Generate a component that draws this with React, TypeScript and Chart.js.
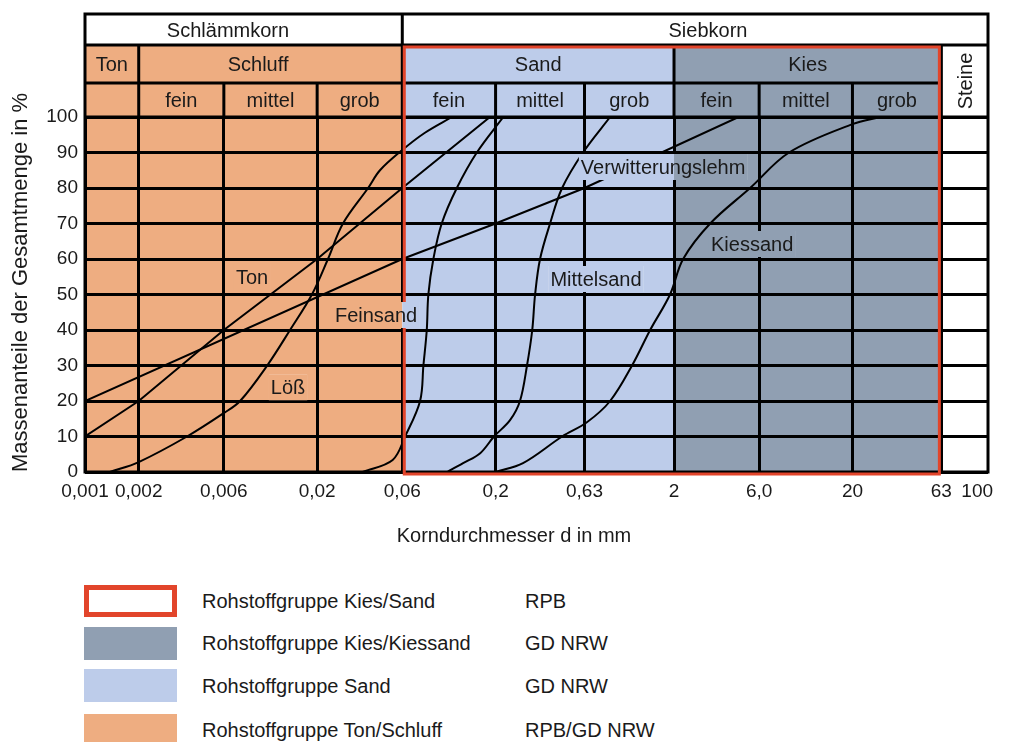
import React, { useEffect, useRef } from 'react';
import { Chart, registerables } from 'chart.js';

Chart.register(...registerables);

// ---------- axis ticks ----------
const xTickValues = [0.001, 0.002, 0.006, 0.02, 0.06, 0.2, 0.63, 2, 6, 20, 63, 100];
const xTickLabels = ['0,001', '0,002', '0,006', '0,02', '0,06', '0,2', '0,63', '2', '6,0', '20', '63', '100'];
const xAxisMin = 0.001;
const xAxisMax = 115;
const yAxisMin = 0;
const yAxisMax = 100;
const yStep = 10;
const xTitle = 'Korndurchmesser d in mm';
const yTitle = 'Massenanteile der Gesamtmenge in %';

// ---------- grain size curves (diameter in mm, passing in %) ----------
const curveNames = ['Ton', 'Löß', 'Verwitterungslehm', 'Feinsand', 'Mittelsand', 'Kiessand'];

const tonD = [0.001, 0.002, 0.006, 0.02, 0.06, 0.186];
const tonP = [10, 20, 40, 60, 80, 100];

const lossD = [0.00138, 0.002, 0.00373, 0.006, 0.0074, 0.0105, 0.0141, 0.0187, 0.023, 0.0279, 0.0386, 0.045, 0.06, 0.08, 0.114];
const lossP = [0, 2.8, 10, 16.6, 20, 30, 40, 50, 60, 70, 80, 85, 90.7, 95.5, 100];

const verwD = [0.001, 0.06, 0.2, 0.63, 4.6];
const verwP = [20, 60, 70, 80, 100];

const feinD = [0.036, 0.053, 0.0622, 0.0755, 0.0788, 0.0823, 0.084, 0.0896, 0.0998, 0.1213, 0.157, 0.221];
const feinP = [0, 3.4, 10, 20, 30, 40, 50, 60, 70, 80, 90, 100];

const mittelD = [0.107, 0.1315, 0.164, 0.196, 0.241, 0.274, 0.3, 0.321, 0.333, 0.355, 0.404, 0.472, 0.618, 0.877];
const mittelP = [0, 2.5, 5.3, 10, 14.6, 20, 30, 40, 50, 60, 70, 80, 90, 100];

const kiesD = [0.2, 0.285, 0.472, 0.65, 0.877, 1.164, 1.47, 1.9, 2.25, 3.19, 5.34, 8.83, 20, 28.6];
const kiesP = [0, 2.5, 10, 14, 20, 30, 40, 50, 60, 70, 80, 90, 98, 100];

const curveD = [tonD, lossD, verwD, feinD, mittelD, kiesD];
const curveP = [tonP, lossP, verwP, feinP, mittelP, kiesP];
const curveSmooth = [false, true, false, true, true, true];

// ---------- fraction bands ----------
const bandFrom = [0.001, 0.06, 2];
const bandTo = [0.06, 2, 63];

// ---------- header ----------
const headerRow1Text = ['Schlämmkorn', 'Siebkorn'];
const headerRow1At = [0.00633, 3.1];
const headerRow1Dividers = [0.06];

const headerRow2Text = ['Ton', 'Schluff', 'Sand', 'Kies'];
const headerRow2From = [0.001, 0.002, 0.06, 2];
const headerRow2To = [0.002, 0.06, 2, 63];
const headerRow2At = [0, 0.00933, 0, 0];
const headerRow2Dividers = [0.002, 0.06, 2, 63];
const steineText = 'Steine';
const steineFrom = 63;

const headerRow3Text = ['fein', 'mittel', 'grob', 'fein', 'mittel', 'grob', 'fein', 'mittel', 'grob'];
const headerRow3Edges = [0.002, 0.006, 0.02, 0.06, 0.2, 0.63, 2, 6, 20, 63];

// ---------- curve labels ----------
const labelTexts = ['Ton', 'Löß', 'Feinsand', 'Mittelsand', 'Kiessand', 'Verwitterungslehm'];
const labelD = [0.00863, 0.01374, 0.0428, 0.731, 5.48, 1.738];
const labelP = [54.9, 23.9, 44.2, 54.4, 64.2, 85.9];

// ---------- legend ----------
const legendNames = ['Rohstoffgruppe Kies/Sand', 'Rohstoffgruppe Kies/Kiessand', 'Rohstoffgruppe Sand', 'Rohstoffgruppe Ton/Schluff'];
const legendSources = ['RPB', 'GD NRW', 'GD NRW', 'RPB/GD NRW'];

// ---------- styles ----------
const FONT = '"Liberation Sans", Arial, Helvetica, sans-serif';
const TEXT = '#1a1a1a';
const BAND_COLORS = ['#EEAD81', '#BDCCEA', '#909FB2'];
const RED = '#E2452B';
const ROW0 = 14;
const ROW1 = 45;
const ROW2 = 83;
const X_TITLE_X = 514;
const X_TITLE_Y = 535;

function drawCapText(ctx: CanvasRenderingContext2D, text: string, cx: number, cy: number, size: number) {
  ctx.font = `${size}px ${FONT}`;
  ctx.fillStyle = TEXT;
  ctx.textAlign = 'center';
  ctx.textBaseline = 'alphabetic';
  ctx.fillText(text, cx, cy + size * 0.358);
}

function fillBands(chart: any) {
  const { ctx, chartArea: a, scales } = chart;
  const x = scales.x;
  for (let i = 0; i < bandFrom.length; i++) {
    const x1 = x.getPixelForValue(bandFrom[i]);
    const x2 = x.getPixelForValue(bandTo[i]);
    ctx.fillStyle = BAND_COLORS[i];
    ctx.fillRect(x1, ROW1, x2 - x1, a.bottom - ROW1);
  }
}

const sievePlugin = {
  id: 'sieveDiagram',
  beforeDraw(chart: any) {
    const { ctx } = chart;
    ctx.save();
    ctx.fillStyle = '#ffffff';
    ctx.fillRect(0, 0, chart.width, chart.height);
    fillBands(chart);
    ctx.restore();
  },
  afterDatasetsDraw(chart: any) {
    const { ctx, chartArea: a, scales } = chart;
    const x = scales.x;
    const y = scales.y;
    const px = (v: number) => x.getPixelForValue(v);
    ctx.save();
    ctx.strokeStyle = '#000';
    ctx.lineWidth = 3;
    ctx.lineCap = 'butt';
    const line = (x1: number, y1: number, x2: number, y2: number) => {
      ctx.beginPath();
      ctx.moveTo(x1, y1);
      ctx.lineTo(x2, y2);
      ctx.stroke();
    };
    // header grid
    line(a.left, ROW1, a.right, ROW1);
    line(a.left, ROW2, px(steineFrom), ROW2);
    line(a.left, a.top, a.right, a.top);
    headerRow1Dividers.forEach((v) => line(px(v), ROW0, px(v), ROW1));
    headerRow2Dividers.forEach((v) => line(px(v), ROW1, px(v), ROW2));
    headerRow3Edges.forEach((v) => line(px(v), ROW2, px(v), a.top));
    // outer border
    ctx.strokeRect(a.left, ROW0, a.right - a.left, a.bottom - ROW0);

    // red frame (Rohstoffgruppe Kies/Sand)
    ctx.strokeStyle = RED;
    ctx.lineWidth = 3;
    const rx1 = px(0.06) + 2;
    const rx2 = px(63) - 2;
    ctx.strokeRect(rx1, ROW1 + 2, rx2 - rx1, a.bottom + 2 - (ROW1 + 2));

    // header texts
    const size = 20;
    const r1c = (ROW0 + ROW1) / 2;
    const r2c = (ROW1 + ROW2) / 2;
    const r3c = (ROW2 + a.top) / 2;
    headerRow1Text.forEach((t, i) => drawCapText(ctx, t, px(headerRow1At[i]), r1c, size));
    headerRow2Text.forEach((t, i) => {
      const cx = headerRow2At[i] ? px(headerRow2At[i]) : (px(headerRow2From[i]) + px(headerRow2To[i])) / 2;
      drawCapText(ctx, t, cx, r2c, size);
    });
    headerRow3Text.forEach((t, i) => {
      const cx = (px(headerRow3Edges[i]) + px(headerRow3Edges[i + 1])) / 2;
      drawCapText(ctx, t, cx, r3c, size);
    });
    // Steine (rotated)
    ctx.save();
    ctx.translate((px(steineFrom) + a.right) / 2, (ROW1 + a.top) / 2);
    ctx.rotate(-Math.PI / 2);
    drawCapText(ctx, steineText, 0, 0, size);
    ctx.restore();

    // x axis title
    drawCapText(ctx, xTitle, X_TITLE_X, X_TITLE_Y, 20);

    // curve labels with background boxes
    labelTexts.forEach((t, i) => {
      const cx = px(labelD[i]);
      const cy = y.getPixelForValue(labelP[i]);
      ctx.font = `${size}px ${FONT}`;
      const w = ctx.measureText(t).width + 4;
      const h = 26;
      ctx.save();
      ctx.beginPath();
      ctx.rect(cx - w / 2, cy - h / 2, w, h);
      ctx.clip();
      ctx.fillStyle = '#ffffff';
      ctx.fillRect(cx - w / 2, cy - h / 2, w, h);
      fillBands(chart);
      ctx.restore();
      drawCapText(ctx, t, cx, cy, size);
    });
    ctx.restore();
  },
};

export default function App() {
  const canvasRef = useRef<HTMLCanvasElement>(null);

  useEffect(() => {
    const canvas = canvasRef.current;
    if (!canvas) return;
    const datasets = curveNames.map((name, i) => ({
      label: name,
      data: curveD[i].map((d, j) => ({ x: d, y: curveP[i][j] })),
      borderColor: '#000',
      borderWidth: 2,
      pointRadius: 0,
      fill: false,
      tension: curveSmooth[i] ? 0.35 : 0,
    }));
    const tickFont = { family: FONT, size: 19 };
    const chart = new Chart(canvas, {
      type: 'line',
      data: { datasets } as any,
      options: {
        animation: false,
        responsive: false,
        maintainAspectRatio: false,
        layout: { padding: { top: 117, right: 24, left: 0, bottom: 8 } },
        plugins: { legend: { display: false }, tooltip: { enabled: false } },
        scales: {
          x: {
            type: 'logarithmic',
            min: xAxisMin,
            max: xAxisMax,
            afterBuildTicks: (s: any) => {
              s.ticks = xTickValues.map((v) => ({ value: v }));
            },
            afterFit: (s: any) => {
              s.height = 80;
            },
            ticks: {
              autoSkip: false,
              maxRotation: 0,
              padding: 8,
              font: tickFont,
              color: TEXT,
              callback: (_v: any, i: number) => xTickLabels[i],
            },
            grid: {
              color: (c: any) => (c.tick && c.tick.value === 100 ? 'rgba(0,0,0,0)' : '#000'),
              lineWidth: 3,
              drawTicks: false,
            },
            border: { display: false },
            title: { display: false },
          },
          y: {
            type: 'linear',
            min: yAxisMin,
            max: yAxisMax,
            afterFit: (s: any) => {
              s.width = 85;
            },
            ticks: { stepSize: yStep, padding: 7, font: tickFont, color: TEXT },
            grid: { color: '#000', lineWidth: 3, drawTicks: false },
            border: { display: false },
            title: {
              display: true,
              text: yTitle,
              align: 'start',
              font: { family: FONT, size: 22 },
              color: TEXT,
              padding: { top: 8, bottom: 0 },
            },
          },
        },
      } as any,
      plugins: [sievePlugin],
    });
    return () => chart.destroy();
  }, []);

  const swatchTop = [585, 627, 669, 714];
  const swatchH = [32, 33, 33, 30];
  const rowCenter = [601, 643, 686, 730];

  return (
    <div
      style={{
        position: 'absolute',
        left: 0,
        top: 0,
        width: 1012,
        height: 742,
        background: '#fff',
        overflow: 'hidden',
        fontFamily: FONT,
        color: TEXT,
      }}
    >
      <canvas
        ref={canvasRef}
        width={1012}
        height={560}
        style={{ position: 'absolute', left: 0, top: 0, width: 1012, height: 560 }}
      />
      {legendNames.map((name, i) => (
        <React.Fragment key={name}>
          <div
            style={{
              position: 'absolute',
              left: 84,
              top: swatchTop[i],
              width: 93,
              height: swatchH[i],
              boxSizing: 'border-box',
              background: i === 0 ? '#fff' : BAND_COLORS[3 - i],
              border: i === 0 ? `5px solid ${RED}` : 'none',
            }}
          />
          <div
            style={{
              position: 'absolute',
              left: 202,
              top: rowCenter[i] - 12,
              height: 24,
              lineHeight: '24px',
              fontSize: 20,
              whiteSpace: 'nowrap',
            }}
          >
            {name}
          </div>
          <div
            style={{
              position: 'absolute',
              left: 525,
              top: rowCenter[i] - 12,
              height: 24,
              lineHeight: '24px',
              fontSize: 20,
              whiteSpace: 'nowrap',
            }}
          >
            {legendSources[i]}
          </div>
        </React.Fragment>
      ))}
    </div>
  );
}
